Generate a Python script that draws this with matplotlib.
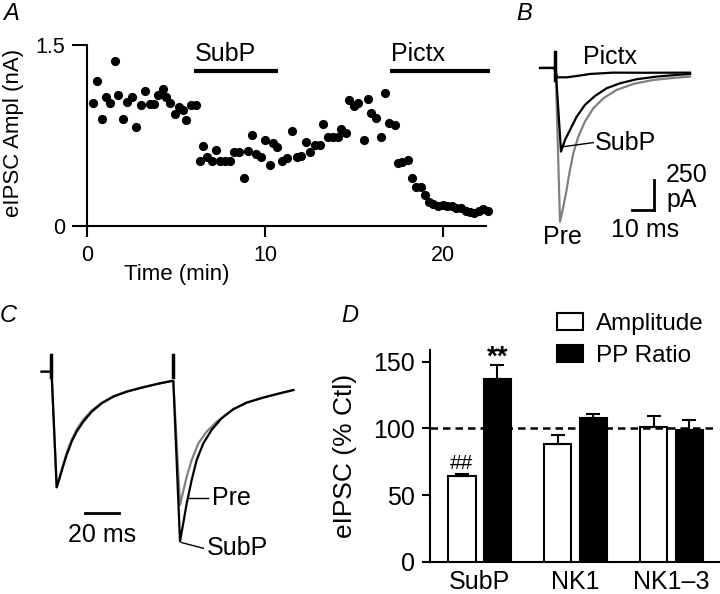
import matplotlib
matplotlib.use('Agg')
import matplotlib.pyplot as plt
from matplotlib.patches import Patch

plt.rcParams['font.family'] = 'Liberation Sans'
plt.rcParams['font.size'] = 18

# ---- panel A: eIPSC amplitude over time
time_min = [0.34, 0.53, 0.81, 1.05, 1.28, 1.53, 1.75, 2.03, 2.22, 2.50, 2.75, 3.03, 3.26,
            3.50, 3.73, 3.95, 4.24, 4.43, 4.67, 4.90, 5.14, 5.35, 5.57, 5.84, 6.08,
            6.31, 6.50, 6.74, 6.99, 7.23, 7.47, 7.74, 8.02, 8.26, 8.52, 8.79, 9.04, 9.27,
            9.50, 9.74, 10.00, 10.24, 10.45, 10.68, 10.96, 11.22, 11.50, 11.80, 12.03,
            12.27, 12.52, 12.78, 13.05, 13.27, 13.50, 13.78, 14.06, 14.25, 14.53, 14.72,
            15.00, 15.23, 15.53, 15.75, 15.94, 16.22, 16.50, 16.75, 16.97, 17.26, 17.44,
            17.68, 18.00, 18.23, 18.48, 18.76, 18.95, 19.19, 19.42, 19.70, 19.98, 20.23,
            20.49, 20.74, 20.98, 21.25, 21.49, 21.73, 22.00, 22.24, 22.52]
ampl_na = [1.02, 1.20, 0.89, 1.07, 1.02, 1.37, 1.09, 0.89, 1.03, 1.07, 0.82, 1.00, 1.12,
           1.01, 1.01, 1.09, 1.14, 1.07, 1.02, 0.93, 0.99, 0.96, 0.88, 1.00, 1.00,
           0.54, 0.66, 0.57, 0.54, 0.63, 0.54, 0.54, 0.54, 0.615, 0.615, 0.40, 0.625, 0.75,
           0.60, 0.575, 0.71, 0.505, 0.69, 0.655, 0.54, 0.56, 0.79, 0.575, 0.58,
           0.70, 0.615, 0.67, 0.67, 0.845, 0.735, 0.735, 0.74, 0.80, 0.77, 1.045,
           0.995, 1.02, 0.71, 1.055, 0.94, 0.895, 0.735, 1.10, 0.85, 0.84, 0.52,
           0.53, 0.55, 0.395, 0.325, 0.32, 0.255, 0.20, 0.18, 0.165, 0.17, 0.16,
           0.16, 0.15, 0.145, 0.125, 0.115, 0.105, 0.12, 0.135, 0.125]
drug_names = ['SubP', 'Pictx']
drug_start = [6.0, 17.0]
drug_end = [10.7, 22.65]

# ---- panel B: example traces (ms, pA)
b_pre_t = [-6.8, 0.3, 2.27, 3.48, 5.0, 6.52, 8.33, 10.6, 13.6, 17.4, 21.97, 28.0, 35.6, 44.7, 53.8, 61.4]
b_pre_i = [0, 0, -1281, -1183, -1044, -878, -711, -572, -447, -336, -253, -183, -133, -100, -83, -72]
b_subp_t = [-6.8, 0.3, 2.73, 4.55, 6.82, 9.85, 13.6, 18.2, 23.5, 29.5, 37.1, 46.2, 55.3, 61.4]
b_subp_i = [0, 0, -697, -600, -517, -406, -308, -233, -169, -128, -94, -72, -58, -50]
b_pictx_t = [-6.8, -0.45, 1.06, 5.3, 9.85, 15.9, 26.5, 40.0, 61.4]
b_pictx_i = [0, 0, -78, -78, -67, -50, -39, -40, -39]

# ---- panel C: paired-pulse traces (ms, normalised to first peak)
c_subp_t = [-5.3, -0.4, 0.5, 3.47, 5.4, 7.37, 9.3, 12.2, 15.1, 19.0, 23.9, 29.7, 36.5, 44.3,
            54.0, 63.7, 70.5, 71.4, 75.3, 77.2, 79.2, 82.1, 85.0, 88.9, 93.7, 99.5, 106.3,
            114.1, 123.8, 133.5, 141.3]
c_subp_y = [0, 0, 0, -1.0, -0.91, -0.81, -0.72, -0.605, -0.519, -0.432, -0.346, -0.274, -0.216,
            -0.173, -0.135, -0.101, -0.081, -0.081, -1.47, -1.31, -1.14, -0.937, -0.764, -0.62,
            -0.504, -0.403, -0.325, -0.268, -0.224, -0.187, -0.159]
c_pre_t = [-5.3, -0.4, 0.5, 3.47, 5.4, 7.37, 9.3, 12.2, 15.1, 19.0, 23.9, 29.7, 36.5, 44.3,
           54.0, 63.7, 70.5, 71.4, 75.3, 76.9, 79.2, 82.1, 86.0, 90.8, 96.7, 99.5, 106.3,
           114.1, 123.8, 133.5, 141.3]
c_pre_y = [0, 0, 0, -1.0, -0.90, -0.80, -0.70, -0.59, -0.50, -0.415, -0.335, -0.268, -0.212,
           -0.170, -0.133, -0.099, -0.080, -0.080, -1.153, -1.052, -0.908, -0.764, -0.62,
           -0.519, -0.432, -0.403, -0.325, -0.268, -0.224, -0.187, -0.159]
stim_times = [0.0, 71.4]

# ---- panel D: summary (% control)
groups = ['SubP', 'NK1', 'NK1\u20133']
amp_mean = [64, 88, 101]
amp_sem = [2, 7, 8.5]
ppr_mean = [137, 108, 99]
ppr_sem = [10.5, 3, 7]

W, H = 720, 594
fig = plt.figure(figsize=(W / 100, H / 100), dpi=100)


def px_axes(left, top, right, bottom):
    return fig.add_axes([left / W, 1 - bottom / H, (right - left) / W, (bottom - top) / H])


def letter(x, y, s):
    fig.text(x / W, 1 - y / H, s, fontsize=17, style='italic', ha='left', va='center')


# A
ax = px_axes(87.3, 45.3, 486, 225.7)
ax.plot(time_min, ampl_na, 'o', color='k', ms=5.6, clip_on=False)
for name, s, e in zip(drug_names, drug_start, drug_end):
    ax.plot([s, e], [1.287, 1.287], color='k', lw=3, solid_capstyle='butt', clip_on=False)
    ax.text(s + 0.05, 1.425, name, ha='left', va='center', fontsize=18)
ax.set_xlim(0, 22.4)
ax.set_ylim(0, 1.5)
ax.set_xticks([0, 10, 20])
ax.set_yticks([0, 1.5])
ax.set_yticklabels(['0', '1.5'])
for sp in ['top', 'right']:
    ax.spines[sp].set_visible(False)
for sp in ['left', 'bottom']:
    ax.spines[sp].set_linewidth(1.5)
ax.tick_params(axis='y', length=11, width=1.5, pad=5, labelsize=15.5)
ax.tick_params(axis='x', length=8, width=1.5, pad=6, labelsize=15.5)
ax.set_xlabel('Time (min)', fontsize=16)
ax.xaxis.set_label_coords(0.224, -0.215)
ax.set_ylabel('eIPSC Ampl (nA)', fontsize=16)
ax.yaxis.set_label_coords(-0.16, 0.514)
letter(3, 13, 'A')

# B
bx = px_axes(530, 40, 720, 250)
bx.plot(b_pre_t, b_pre_i, color='#808080', lw=1.6)
bx.plot(b_subp_t, b_subp_i, color='k', lw=1.6)
bx.plot(b_pictx_t, b_pictx_i, color='k', lw=1.6)
bx.plot([0, 0], [136, -100], color='k', lw=2.5)
bx.plot([45, 45], [-933, -1183], color='k', lw=2)
bx.plot([35, 45], [-1183, -1183], color='k', lw=2)
bx.text(12.7, 92, 'Pictx', ha='left', va='center')
bx.plot([3.8, 17.4], [-656, -622], color='k', lw=1)
bx.text(18.2, -625, 'SubP', ha='left', va='center')
bx.text(3.2, -1410, 'Pre', ha='center', va='center')
bx.text(50.5, -892, '250', ha='left', va='center')
bx.text(50.5, -1100, 'pA', ha='left', va='center')
bx.text(40.9, -1350, '10 ms', ha='center', va='center')
bx.set_xlim(-11.36, 75)
bx.set_ylim(-1517, 233)
bx.axis('off')
letter(516, 14, 'B')

# C
cx = px_axes(30, 340, 310, 570)
cx.plot(c_pre_t, c_pre_y, color='#808080', lw=1.6)
cx.plot(c_subp_t, c_subp_y, color='k', lw=1.6)
for st in stim_times:
    cx.plot([st, st], [0.144, -0.05], color='k', lw=2.5)
cx.plot([20, 40], [-1.22, -1.22], color='k', lw=2)
cx.text(30, -1.413, '20 ms', ha='center', va='center')
cx.plot([80, 91.6], [-1.093, -1.093], color='k', lw=1)
cx.text(93.8, -1.093, 'Pre', ha='left', va='center')
cx.plot([76.3, 88.9], [-1.479, -1.528], color='k', lw=1)
cx.text(91, -1.525, 'SubP', ha='left', va='center')
cx.set_xlim(-12.06, 151)
cx.set_ylim(-1.716, 0.274)
cx.axis('off')
letter(0, 316, 'C')

# D
dx = px_axes(430, 349.7, 720, 561.7)
pos = list(range(len(groups)))
bw = 0.286
off = 0.185
dx.bar([p - off for p in pos], amp_mean, bw, color='white', edgecolor='k', lw=1.5,
       yerr=[[0] * 3, amp_sem], error_kw=dict(ecolor='k', elinewidth=1.5, capsize=5, capthick=1.5),
       label='Amplitude', zorder=3)
dx.bar([p + off for p in pos], ppr_mean, bw, color='k', edgecolor='k', lw=1.5,
       yerr=[[0] * 3, ppr_sem], error_kw=dict(ecolor='k', elinewidth=1.5, capsize=5, capthick=1.5),
       label='PP Ratio', zorder=3)
dx.axhline(100, color='k', lw=1.8, ls=(0, (3, 2)), xmax=0.99, zorder=4)
dx.text(-off, 73.5, '##', ha='center', va='center', fontsize=15)
dx.text(off, 153, '**', ha='center', va='center', fontsize=20, fontweight='bold')
dx.set_xlim(-0.516, 2.505)
dx.set_ylim(0, 159)
dx.set_yticks([0, 50, 100, 150])
dx.set_xticks(pos)
dx.set_xticklabels(groups)
for sp in ['top', 'right']:
    dx.spines[sp].set_visible(False)
for sp in ['left', 'bottom']:
    dx.spines[sp].set_linewidth(1.5)
dx.tick_params(axis='y', length=6, width=1.5, pad=5, labelsize=18)
dx.tick_params(axis='x', length=0, pad=6, labelsize=18)
dx.set_ylabel('eIPSC (% Ctl)', fontsize=19)
dx.yaxis.set_label_coords(-0.252, 0.5)
handles = [Patch(facecolor='white', edgecolor='k', lw=1.5), Patch(facecolor='k', edgecolor='k', lw=1.5)]
dx.legend(handles, ['Amplitude', 'PP Ratio'], loc='upper left',
          bbox_to_anchor=(557 / W, 1 - 313 / H), bbox_transform=fig.transFigure,
          frameon=False, borderpad=0, borderaxespad=0, handlelength=1.07, handleheight=0.7,
          handletextpad=0.55, labelspacing=0.4, fontsize=17.5)
letter(341, 316, 'D')

fig.savefig('out.png', dpi=100)
